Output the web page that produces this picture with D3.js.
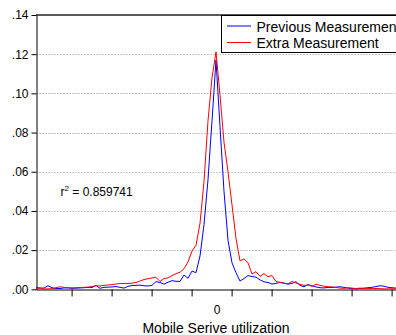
<!DOCTYPE html>
<html>
<head>
<meta charset="utf-8">
<script src="https://cdn.jsdelivr.net/npm/d3@7"></script>
<style>
body { margin: 0; background: #fff; }
svg { display: block; font-family: "Liberation Sans", Arial, sans-serif; }
</style>
</head>
<body>
<script>
// offsets run from -45 to 45, one value per step
var xStart = -45;
var previous = [0.0008, 0.0007, 0.0006, 0.0018, 0.0008, 0.0004, 0.0004, 0.0007, 0.0007, 0.0005,
	0.0006, 0.0007, 0.0008, 0.0010, 0.0009, 0.0020, 0.0005, 0.0010, 0.0011, 0.0012,
	0.0014, 0.0010, 0.0006, 0.0015, 0.0019, 0.0020, 0.0021, 0.0018, 0.0017, 0.0020,
	0.0039, 0.0035, 0.0026, 0.0036, 0.0044, 0.0041, 0.0040, 0.0073, 0.0056, 0.0093,
	0.0085, 0.0170, 0.033, 0.056, 0.086, 0.117, 0.083, 0.050, 0.025, 0.0135,
	0.0085, 0.0042, 0.0055, 0.0070, 0.0065, 0.0062, 0.0048, 0.0038, 0.0035, 0.0027,
	0.0030, 0.0036, 0.0032, 0.0026, 0.0030, 0.0039, 0.0020, 0.0013, 0.0024, 0.0018,
	0.0012, 0.0008, 0.0007, 0.0010, 0.0009, 0.0011, 0.0013, 0.0010, 0.0006, 0.0004,
	0.0002, 0.0004, 0.0006, 0.0008, 0.0010, 0.0014, 0.0018, 0.0016, 0.0010, 0.0008, 0.0006];
var extra = [0.0002, 0.0003, 0.0002, 0.0002, 0.0003, 0.0008, 0.0013, 0.0010, 0.0008, 0.0007,
	0.0008, 0.0009, 0.0010, 0.0011, 0.0014, 0.0018, 0.0017, 0.0020, 0.0022, 0.0024,
	0.0027, 0.0029, 0.0030, 0.0030, 0.0031, 0.0035, 0.0042, 0.0050, 0.0054, 0.0058,
	0.0061, 0.0040, 0.0055, 0.0058, 0.0070, 0.0080, 0.0087, 0.0105, 0.0140, 0.0195,
	0.0225, 0.0337, 0.055, 0.086, 0.108, 0.1212, 0.099, 0.075, 0.060, 0.043,
	0.026, 0.0145, 0.0155, 0.0135, 0.0078, 0.0090, 0.0066, 0.0080, 0.0064, 0.0070,
	0.0040, 0.0035, 0.0030, 0.0028, 0.0040, 0.0032, 0.0025, 0.0020, 0.0022, 0.0015,
	0.0026, 0.0020, 0.0016, 0.0013, 0.0012, 0.0010, 0.0006, 0.0005, 0.0008, 0.0006,
	0.0004, 0.0006, 0.0004, 0.0003, 0.0005, 0.0004, 0.0003, 0.0002, 0.0002, 0.0003, 0.0002];
var yTicks = [0, 0.02, 0.04, 0.06, 0.08, 0.10, 0.12, 0.14];
var xTicks = [-36.1, -26.1, -16.1, -6.1, 3.9, 13.9, 23.9, 33.9, 43.9];
var xLabels = [0];
var seriesNames = ["Previous Measurement", "Extra Measurement"];
var seriesColors = ["#0000ff", "#ff0000"];
var rSquared = "0.859741";
var xTitle = "Mobile Serive utilization";

var width = 396, height = 335;

var svg = d3.select("body").append("svg")
	.attr("width", width)
	.attr("height", height);

var x = d3.scaleLinear().domain([-45, 45]).range([36, 396]);
var y = d3.scaleLinear().domain([0, 0.14]).range([289.3, 15]);

// grid
svg.append("g").selectAll("line")
	.data(yTicks.filter(function(d){ return d > 0 && d < 0.14; }))
	.enter().append("line")
	.attr("x1", 36).attr("x2", width)
	.attr("y1", function(d){ return Math.round(y(d)) + 0.5; })
	.attr("y2", function(d){ return Math.round(y(d)) + 0.5; })
	.attr("stroke", "#c8c8c8")
	.attr("stroke-dasharray", "2,1");

// y axis
var yAxis = svg.append("g")
	.attr("transform", "translate(36.5,0)")
	.call(d3.axisLeft(y).tickValues(yTicks).tickSize(5).tickPadding(3).tickSizeOuter(0)
		.tickFormat(function(d){ return d3.format(".2f")(d).replace(/^0/, ""); }));
yAxis.selectAll("text").attr("font-size", 12).attr("fill", "#000").attr("font-family", null);
yAxis.select(".domain").attr("stroke", "#000");

// x axis, ticks without labels
var xAxis = svg.append("g")
	.attr("transform", "translate(0,289.5)")
	.call(d3.axisBottom(x).tickValues(xTicks).tickSize(7).tickSizeOuter(0).tickFormat(""));
xAxis.select(".domain").attr("stroke", "#000");

svg.append("g").selectAll("text")
	.data(xLabels)
	.enter().append("text")
	.attr("x", function(d){ return x(d) + 1; })
	.attr("y", 314)
	.attr("text-anchor", "middle")
	.attr("font-size", 12)
	.text(function(d){ return d; });

svg.append("text")
	.attr("x", 216)
	.attr("y", 333)
	.attr("text-anchor", "middle")
	.attr("font-size", 14)
	.text(xTitle);

// top border
svg.append("line")
	.attr("x1", 36).attr("x2", width)
	.attr("y1", 15).attr("y2", 15)
	.attr("stroke", "#222")
	.attr("stroke-width", 1.5);

// series
var line = d3.line()
	.x(function(d, i){ return x(xStart + i); })
	.y(function(d){ return y(d); });

svg.append("g").selectAll("path")
	.data([previous, extra])
	.enter().append("path")
	.attr("d", line)
	.attr("fill", "none")
	.attr("stroke", function(d, i){ return seriesColors[i]; })
	.attr("stroke-width", 1);

// r squared note
var note = svg.append("text")
	.attr("x", 60.5)
	.attr("y", 196)
	.attr("font-size", 12);
note.append("tspan").text("r");
note.append("tspan").attr("font-size", 8).attr("dy", -5).text("2");
note.append("tspan").attr("dy", 5).text(" = " + rSquared);

// legend
var legend = svg.append("g");
legend.append("rect")
	.attr("x", 221.5).attr("y", 15.5)
	.attr("width", 200).attr("height", 37)
	.attr("fill", "#fff")
	.attr("stroke", "#000");

var items = legend.selectAll(".item")
	.data(seriesNames)
	.enter().append("g")
	.attr("class", "item")
	.attr("transform", function(d, i){ return "translate(0," + (26 + i * 16.5) + ")"; });

items.append("line")
	.attr("x1", 227).attr("x2", 251)
	.attr("stroke", function(d, i){ return seriesColors[i]; });

items.append("text")
	.attr("x", 256.5)
	.attr("y", 5.5)
	.attr("font-size", 14)
	.text(function(d){ return d; });
</script>
</body>
</html>
